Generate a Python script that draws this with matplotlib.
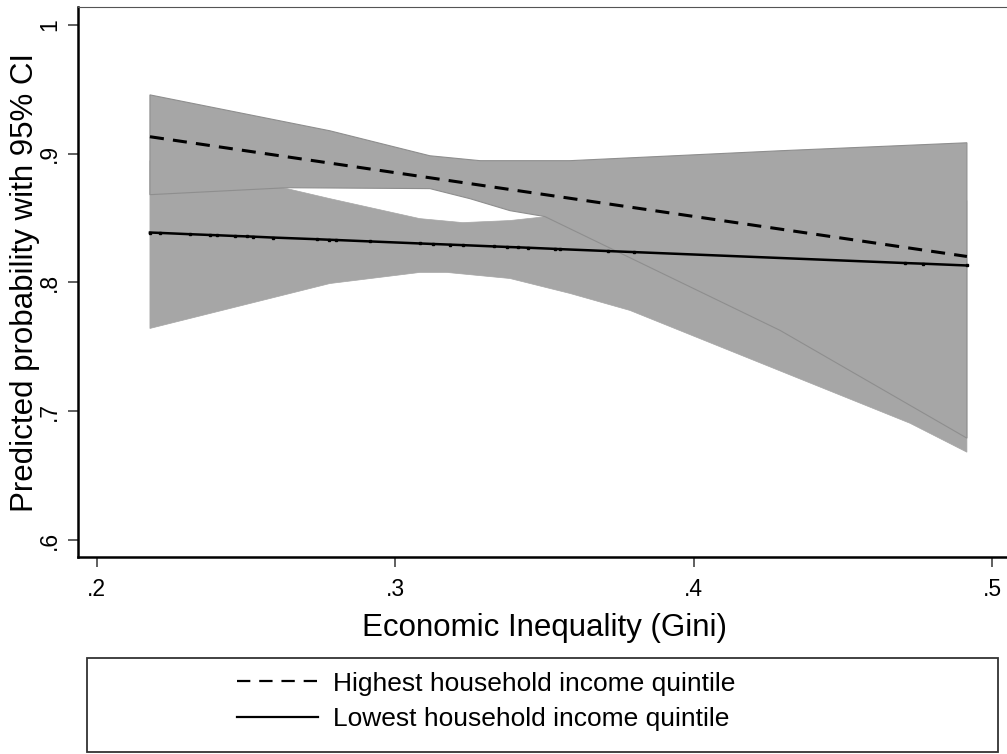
import matplotlib
matplotlib.use('Agg')
import matplotlib.pyplot as plt
from matplotlib.lines import Line2D
from matplotlib.patches import Rectangle

plt.rcParams['font.family'] = ['Liberation Sans', 'DejaVu Sans']

# fitted probabilities, highest quintile
high_x = [0.2179, 0.4916]
high_y = [0.9132, 0.8202]

# fitted probabilities, lowest quintile (evaluated at observed Gini values)
low_x = [0.2179, 0.2213, 0.2313, 0.2380, 0.2404, 0.2464, 0.2504, 0.2524, 0.2591,
         0.2739, 0.2779, 0.2802, 0.2916, 0.3084, 0.3127, 0.3184, 0.3228, 0.3332,
         0.3375, 0.3412, 0.3445, 0.3536, 0.3553, 0.3714, 0.3801, 0.4709, 0.4769,
         0.4916]
low_y = [0.8388, 0.8385, 0.8375, 0.8369, 0.8367, 0.8361, 0.8358, 0.8356, 0.8349,
         0.8336, 0.8332, 0.8330, 0.8319, 0.8303, 0.8299, 0.8294, 0.8290, 0.8280,
         0.8276, 0.8273, 0.8270, 0.8261, 0.8259, 0.8244, 0.8236, 0.8151, 0.8146,
         0.8132]

# 95% CI edges, highest quintile
high_ci_up_x = [0.2179, 0.2782, 0.3117, 0.3285, 0.3586, 0.4290, 0.4916]
high_ci_up_y = [0.9457, 0.9178, 0.8984, 0.8946, 0.8946, 0.9023, 0.9085]
high_ci_lo_x = [0.2179, 0.2638, 0.3117, 0.3251, 0.3385, 0.3502, 0.4290, 0.4916]
high_ci_lo_y = [0.8682, 0.8736, 0.8729, 0.8651, 0.8558, 0.8512, 0.7628, 0.6791]

# 95% CI edges, lowest quintile
low_ci_up_x = [0.2179, 0.2638, 0.2782, 0.3083, 0.3227, 0.3385, 0.3509, 0.4022, 0.4916]
low_ci_up_y = [0.8946, 0.8729, 0.8651, 0.8496, 0.8465, 0.8481, 0.8512, 0.8403, 0.8636]
low_ci_lo_x = [0.2179, 0.2782, 0.3083, 0.3174, 0.3385, 0.3586, 0.3787, 0.4725, 0.4916]
low_ci_lo_y = [0.7643, 0.7992, 0.8078, 0.8078, 0.8031, 0.7915, 0.7783, 0.6907, 0.6682]

xticks = [0.2, 0.3, 0.4, 0.5]
xtick_labels = ['.2', '.3', '.4', '.5']
yticks = [0.6, 0.7, 0.8, 0.9, 1.0]
ytick_labels = ['.6', '.7', '.8', '.9', '1']

legend_labels = ['Highest household income quintile', 'Lowest household income quintile']

band_color = '#a6a6a6'

fig = plt.figure(figsize=(10.07, 7.54), dpi=100)
ax = fig.add_axes([78 / 1007, 197 / 754, 934 / 1007, 550 / 754])

# CI bands: lowest quintile first, highest quintile on top with a thin outline
ax.fill(low_ci_up_x + low_ci_lo_x[::-1], low_ci_up_y + low_ci_lo_y[::-1],
        facecolor=band_color, edgecolor=band_color, lw=0.5, zorder=1)
ax.fill(high_ci_up_x + high_ci_lo_x[::-1], high_ci_up_y + high_ci_lo_y[::-1],
        facecolor=band_color, edgecolor='#8e8e8e', lw=0.8, zorder=2)

ax.plot(high_x, high_y, color='black', lw=2.2, dashes=(4.6, 3.0), zorder=3)
ax.plot(low_x, low_y, color='black', lw=1.8, marker='s', ms=2.0, zorder=3)

ax.set_xlim(0.1938, 0.5067)
ax.set_ylim(0.5868, 1.01395)

ax.set_xticks(xticks)
ax.set_xticklabels(xtick_labels)
ax.set_yticks(yticks)
ax.set_yticklabels(ytick_labels, rotation=90, va='center')

ax.tick_params(axis='both', length=7.2, width=1.2, color='#444444', labelsize=16.5)
ax.tick_params(axis='y', pad=5)
ax.tick_params(axis='x', pad=8)

for side in ['left', 'bottom']:
    ax.spines[side].set_linewidth(1.8)
    ax.spines[side].set_color('black')
ax.spines['top'].set_linewidth(0.8)
ax.spines['top'].set_color('#555555')
ax.spines['right'].set_visible(False)

fig.text(545 / 1007, 1 - 628 / 754, 'Economic Inequality (Gini)', fontsize=22.5,
         ha='center', va='center')
fig.text(25 / 1007, 1 - 283 / 754, 'Predicted probability with 95% CI', fontsize=22.5,
         rotation=90, ha='center', va='center')

# legend box
fig.patches.append(Rectangle((87 / 1007, 2 / 754), 911 / 1007, 94 / 754,
                             transform=fig.transFigure, fill=False,
                             edgecolor='#333333', lw=1.3))
handles = [Line2D([], [], color='black', lw=1.6, dashes=(6.0, 4.0)),
           Line2D([], [], color='black', lw=1.6)]
fig.legend(handles, legend_labels, loc='center', bbox_to_anchor=(486 / 1007, 1 - 701.5 / 754),
           frameon=False, handlelength=3.1, handletextpad=0.55, labelspacing=0.45,
           prop={'family': ['Liberation Sans', 'DejaVu Sans'], 'size': 19})

fig.savefig('out.png', dpi=100)
